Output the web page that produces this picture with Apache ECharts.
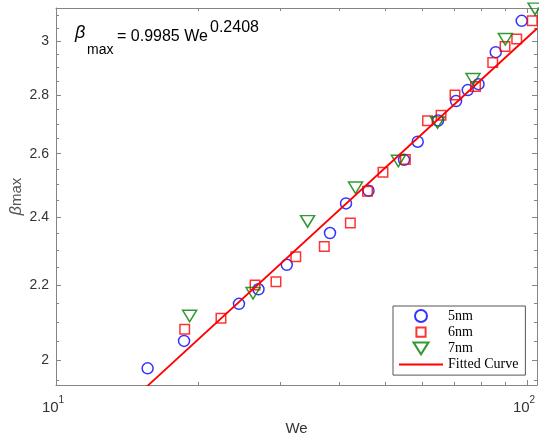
<!DOCTYPE html>
<html><head><meta charset="utf-8">
<script src="https://cdn.jsdelivr.net/npm/echarts@6/dist/echarts.min.js"></script>
<style>html,body{margin:0;padding:0;background:#fff}#c{width:539px;height:440px}</style>
</head><body><div id="c"></div>
<script>
// ---- data ----
const we5nm   = [15.65, 18.70, 24.46, 26.91, 30.90, 38.17, 41.28, 46.08, 54.82, 58.61, 64.73, 70.68, 74.84, 78.89, 85.82, 97.44];
const beta5nm = [1.980, 2.050, 2.149, 2.189, 2.258, 2.351, 2.441, 2.481, 2.580, 2.640, 2.712, 2.780, 2.819, 2.840, 2.958, 3.078];
const we6nm   = [18.76, 22.40, 26.46, 29.31, 32.29, 37.12, 42.16, 45.85, 49.45, 55.17, 61.49, 65.69, 70.33, 77.74, 84.57, 89.81, 95.09, 102.6];
const beta6nm = [2.081, 2.110, 2.201, 2.210, 2.281, 2.311, 2.381, 2.479, 2.540, 2.581, 2.711, 2.730, 2.801, 2.832, 2.919, 2.979, 3.008, 3.078];
const we7nm   = [19.22, 26.20, 34.21, 43.24, 53.31, 64.57, 76.79, 89.94, 104.0];
const beta7nm = [2.116, 2.178, 2.386, 2.490, 2.576, 2.705, 2.858, 3.007, 3.125];
const fitWe   = [15.0, 105.0];
const fitBeta = [1.917, 3.048];
const seriesNames = ['5nm', '6nm', '7nm', 'Fitted Curve'];
const xRange = [10, 105];
const yRange = [1.9385, 3.1285];
const xMajorTicks = [10, 100];
const xMinorTicks = [20, 30, 40, 50, 60, 70, 80, 90];
const yMajorTicks = [2, 2.2, 2.4, 2.6, 2.8, 3];
const yMinorTicks = [1.95, 2.05, 2.1, 2.15, 2.25, 2.3, 2.35, 2.45, 2.5, 2.55, 2.65, 2.7, 2.75, 2.85, 2.9, 2.95, 3.05, 3.1];

const pairs = (xs, ys) => xs.map((x, i) => [x, ys[i]]);
const AX = '#858585';
const LBL = '#333333';
const SANS = 'Liberation Sans, Arial, sans-serif';

function xAx(pos, ticks, len, major) {
  return {
    type: 'log', logBase: 10, min: xRange[0], max: xRange[1], position: pos,
    axisLine: { show: major, onZero: false, lineStyle: { color: AX, width: 1 } },
    axisTick: { show: true, inside: true, length: len, customValues: ticks, lineStyle: { color: AX, width: 1 } },
    axisLabel: (pos === 'bottom' && major) ? {
      show: true, customValues: ticks, margin: 10,
      formatter: v => '{b|10}{s|' + Math.round(Math.log10(v)) + '}',
      rich: {
        b: { fontSize: 15, color: LBL, fontFamily: SANS, padding: [5, 0, 0, 0] },
        s: { fontSize: 10, color: LBL, fontFamily: SANS, verticalAlign: 'top', padding: [0, 6, 0, 0] }
      }
    } : { show: false },
    splitLine: { show: false }, minorTick: { show: false }, minorSplitLine: { show: false },
    name: (pos === 'bottom' && major) ? 'We' : '',
    nameLocation: 'middle', nameGap: 36,
    nameTextStyle: { fontSize: 15, color: LBL, fontFamily: SANS }
  };
}
function yAx(pos, ticks, len, major) {
  return {
    type: 'log', logBase: 10, min: yRange[0], max: yRange[1], position: pos,
    axisLine: { show: major, onZero: false, lineStyle: { color: AX, width: 1 } },
    axisTick: { show: true, inside: true, length: len, customValues: ticks, lineStyle: { color: AX, width: 1 } },
    axisLabel: (pos === 'left' && major) ? {
      show: true, customValues: ticks, margin: 7, fontSize: 14, color: LBL, fontFamily: SANS,
      formatter: v => String(+v.toFixed(2))
    } : { show: false },
    splitLine: { show: false }, minorTick: { show: false }, minorSplitLine: { show: false },
    name: (pos === 'left' && major) ? '{i|β}{n|max}' : '',
    nameLocation: 'middle', nameGap: 31, nameRotate: 90, nameMoveOverlap: false,
    nameTextStyle: {
      color: '#555', fontSize: 15, fontFamily: SANS,
      rich: {
        i: { fontStyle: 'italic', fontSize: 16, color: '#555', fontFamily: SANS },
        n: { fontSize: 15, color: '#555', fontFamily: SANS }
      }
    }
  };
}

const chart = echarts.init(document.getElementById('c'), null, { renderer: 'canvas' });
const hollow = c => ({ color: 'rgba(0,0,0,0)', borderColor: c, borderWidth: 1.5 });
chart.setOption({
  animation: false,
  backgroundColor: '#ffffff',
  grid: { left: 56, right: 2, top: 8, bottom: 55, containLabel: false, outerBoundsMode: 'none' },
  xAxis: [xAx('bottom', xMajorTicks, 5, true), xAx('bottom', xMinorTicks, 3, false),
          xAx('top', xMajorTicks, 5, true), xAx('top', xMinorTicks, 3, false)],
  yAxis: [yAx('left', yMajorTicks, 5, true), yAx('left', yMinorTicks, 3, false),
          yAx('right', yMajorTicks, 5, true), yAx('right', yMinorTicks, 3, false)],
  legend: {
    orient: 'vertical', left: 393, top: 306,
    padding: [3, 7, 3.5, 5], itemWidth: 44, itemHeight: 12, itemGap: 2.2,
    symbolRotate: 0,
    backgroundColor: '#ffffff', borderColor: '#555', borderWidth: 1, borderRadius: 0,
    textStyle: { fontFamily: 'Liberation Serif, Times New Roman, serif', fontSize: 14, color: '#000', lineHeight: 14 },
    data: [
      { name: seriesNames[0], icon: 'circle' },
      { name: seriesNames[1], icon: 'path://M0,0M12,12M1.4,1.4H10.6V10.6H1.4Z' },
      { name: seriesNames[2], icon: 'path://M0,0H15L7.5,12Z' },
      { name: seriesNames[3], itemStyle: { opacity: 0 } }
    ]
  },
  series: [
    { name: seriesNames[0], type: 'scatter', data: pairs(we5nm, beta5nm), symbol: 'circle', symbolSize: 11,
      itemStyle: hollow('#0000ff'), z: 3 },
    { name: seriesNames[1], type: 'scatter', data: pairs(we6nm, beta6nm), symbol: 'rect', symbolSize: 9.5,
      itemStyle: hollow('#ff0000'), z: 3 },
    { name: seriesNames[2], type: 'scatter', data: pairs(we7nm, beta7nm), symbol: 'triangle', symbolRotate: 180,
      symbolSize: [14, 11.5], itemStyle: hollow('#008000'), z: 3 },
    { name: seriesNames[3], type: 'line', data: pairs(fitWe, fitBeta), symbol: 'none', clip: true,
      lineStyle: { color: '#ff0000', width: 1.8 }, itemStyle: { color: '#ff0000' }, z: 4 }
  ],
  graphic: [
    { type: 'text', left: 75, top: 24, style: { text: 'β', font: 'italic 18px ' + SANS, fill: '#000' } },
    { type: 'text', left: 87, top: 43, style: { text: 'max', font: '14px ' + SANS, fill: '#000' } },
    { type: 'text', left: 117, top: 29, style: { text: '= 0.9985 We', font: '16px ' + SANS, fill: '#000' } },
    { type: 'text', left: 210, top: 20, style: { text: '0.2408', font: '16px ' + SANS, fill: '#000' } }
  ]
});
</script>
</body></html>
